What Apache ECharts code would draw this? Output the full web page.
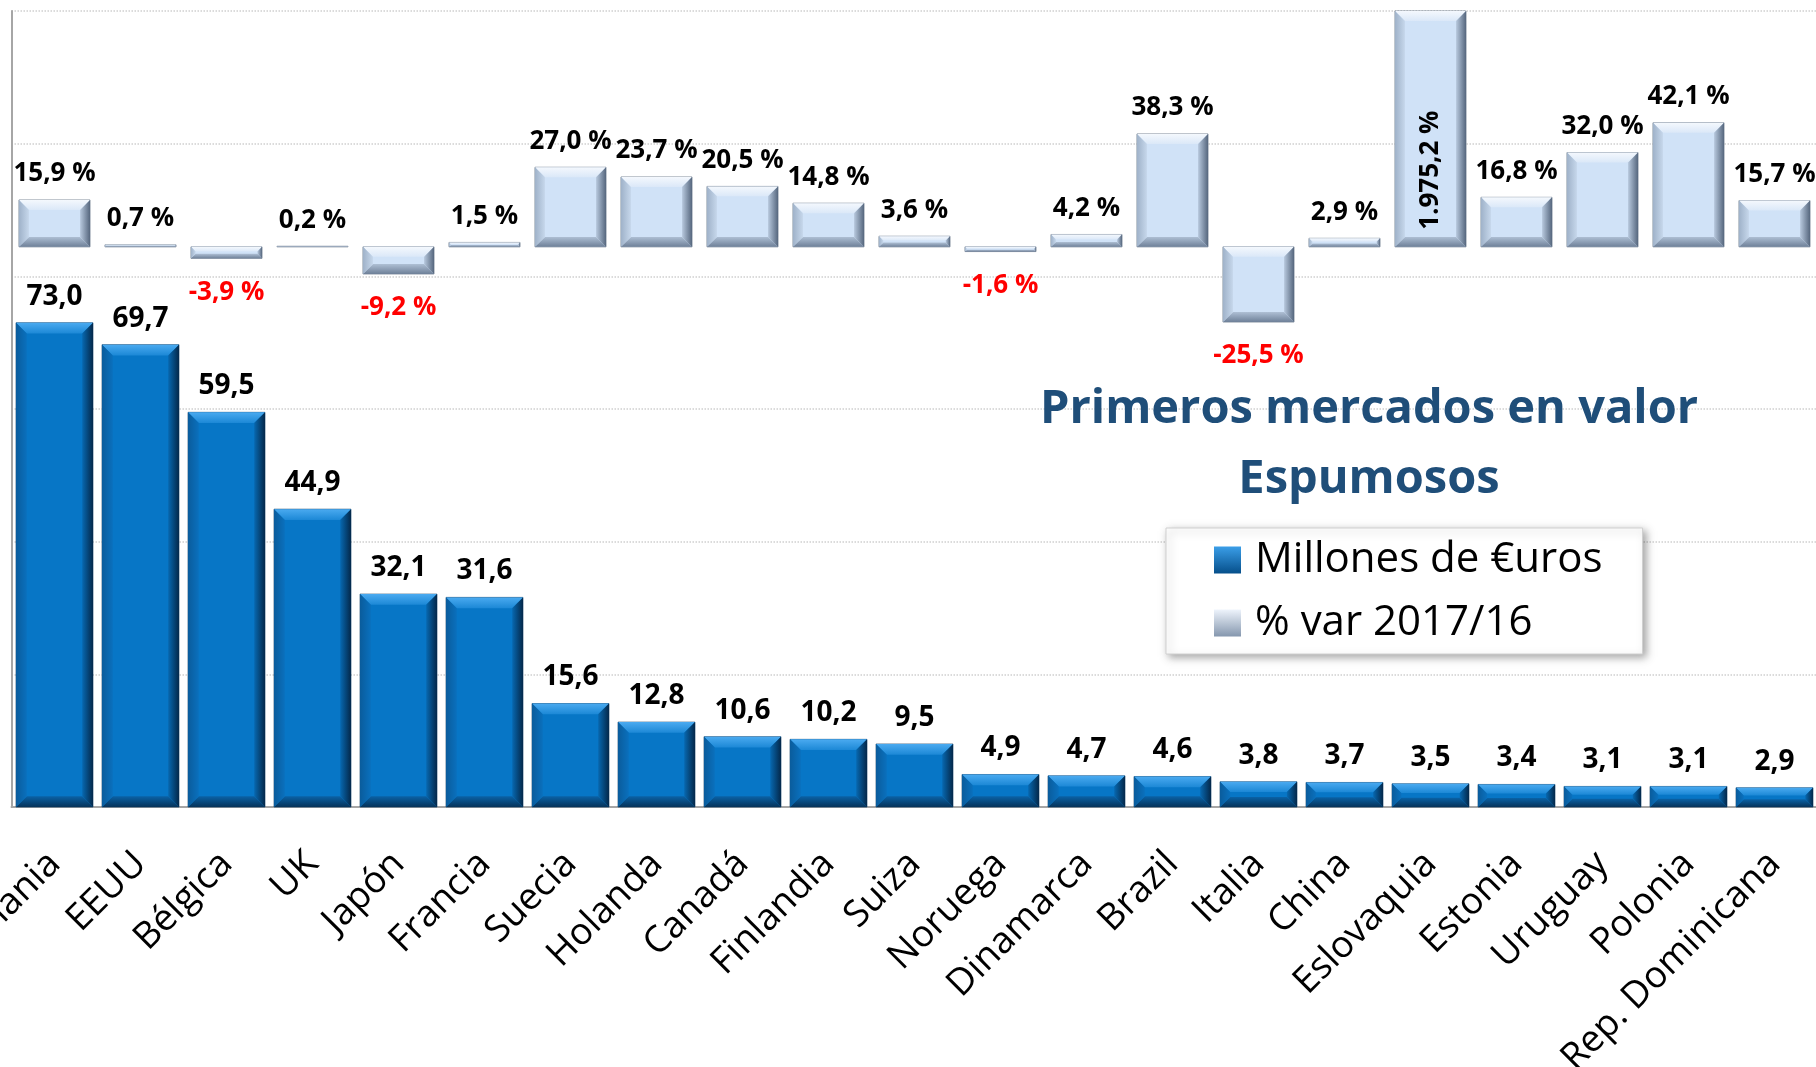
<!DOCTYPE html>
<html>
<head>
<meta charset="utf-8">
<title>Primeros mercados en valor - Espumosos</title>
<script src="https://cdn.jsdelivr.net/npm/echarts@6/dist/echarts.min.js"></script>
<style>
  html, body { margin: 0; padding: 0; background: #fff; }
  #chart { width: 1816px; height: 1067px; }
</style>
</head>
<body>
<div id="chart"></div>
<script>
const categories = ['Alemania', 'EEUU', 'Bélgica', 'UK', 'Japón', 'Francia', 'Suecia', 'Holanda', 'Canadá', 'Finlandia', 'Suiza',
  'Noruega', 'Dinamarca', 'Brazil', 'Italia', 'China', 'Eslovaquia', 'Estonia', 'Uruguay', 'Polonia', 'Rep. Dominicana']
// Millones de €uros
const millones = [73.0, 69.7, 59.5, 44.9, 32.1, 31.6, 15.6, 12.8, 10.6, 10.2, 9.5, 4.9, 4.7, 4.6, 3.8, 3.7, 3.5, 3.4, 3.1, 3.1, 2.9]
// % var 2017/16
const varPct = [15.9, 0.7, -3.9, 0.2, -9.2, 1.5, 27.0, 23.7, 20.5, 14.8, 3.6, -1.6, 4.2, 38.3, -25.5, 2.9, 1975.2, 16.8, 32.0, 42.1, 15.7]

const seriesNames = ['Millones de €uros', '% var 2017/16']
const FONT = '"Open Sans", "DejaVu Sans", sans-serif'

// 1.975,2 style numbers
function fmt(v, suffix) {
  const parts = Math.abs(v).toFixed(1).split('.')
  const int = parts[0].replace(/\B(?=(\d{3})+(?!\d))/g, '.')
  return (v < 0 ? '-' : '') + int + ',' + parts[1] + suffix
}

function lin(x2, y2, c1, c2) {
  return { type: 'linear', x: 0, y: 0, x2: x2, y2: y2, colorStops: [{ offset: 0, color: c1 }, { offset: 1, color: c2 }] }
}

const bluePal = {
  main: '#0776c6',
  top: lin(0, 1, '#4aaaf0', '#1c88d6'),
  bottom: lin(0, 1, '#0a62a6', '#06335a'),
  left: lin(1, 0, '#0a5c9c', '#0a70bd'),
  right: lin(1, 0, '#0768b0', '#04284a'),
  stroke: 'rgba(4,50,90,0.6)',
  fontSize: 28
}
const lightPal = {
  main: '#d0e2f7',
  top: lin(0, 1, '#f4f8fd', '#dbe8f8'),
  bottom: lin(0, 1, '#aebfd4', '#6e8098'),
  left: lin(1, 0, '#9fb2c9', '#c6d7eb'),
  right: lin(1, 0, '#b8c9de', '#56677e'),
  stroke: 'rgba(90,105,125,0.7)',
  fontSize: 26
}

// bar with a bevelled look, drawn from the axis coordinates
function bevelBar(params, api, ratio, pal, label) {
  const i = api.value(0)
  const v = api.value(1)
  const cs = params.coordSys
  const p0 = api.coord([i, 0])
  const p1 = api.coord([i, v])
  const w = api.size([1, 0])[0] * ratio
  const x0 = p0[0] - w / 2
  const x1 = p0[0] + w / 2
  const top = Math.max(Math.min(p0[1], p1[1]), cs.y)
  const bot = Math.min(Math.max(p0[1], p1[1]), cs.y + cs.height)
  const clipped = p1[1] < cs.y
  const h = bot - top
  const b = Math.min(12, h * 0.4, w * 0.14)
  const poly = (pts, fill) => ({ type: 'polygon', shape: { points: pts }, style: { fill: fill } })
  const children = [
    { type: 'rect', shape: { x: x0, y: top, width: w, height: h }, style: { fill: pal.main, stroke: pal.stroke, lineWidth: 1 } },
    poly([[x0, top], [x1, top], [x1 - b, top + b], [x0 + b, top + b]], pal.top),
    poly([[x0, bot], [x1, bot], [x1 - b, bot - b], [x0 + b, bot - b]], pal.bottom),
    poly([[x0, top], [x0 + b, top + b], [x0 + b, bot - b], [x0, bot]], pal.left),
    poly([[x1, top], [x1 - b, top + b], [x1 - b, bot - b], [x1, bot]], pal.right)
  ]
  const text = label(v)
  const style = { text: text, fontFamily: FONT, fontWeight: 'bold', fontSize: pal.fontSize, fill: v < 0 ? '#ff0000' : '#000' }
  if (clipped) {
    children.push({ type: 'text', x: p0[0], y: p0[1] - 17, rotation: Math.PI / 2,
      style: Object.assign(style, { x: 0, y: 0, align: 'left', verticalAlign: 'middle' }) })
  } else if (v < 0) {
    children.push({ type: 'text', style: Object.assign(style, { x: p0[0], y: bot + 34, align: 'center', verticalAlign: 'middle' }) })
  } else {
    children.push({ type: 'text', style: Object.assign(style, { x: p0[0], y: top - 26, align: 'center', verticalAlign: 'middle' }) })
  }
  return { type: 'group', children: children }
}

const chart = echarts.init(document.getElementById('chart'))
chart.setOption({
  backgroundColor: '#fff',
  animation: false,
  title: {
    text: 'Primeros mercados en valor\nEspumosos',
    left: 1369,
    top: 375,
    padding: 0,
    textAlign: 'center',
    textStyle: { fontFamily: FONT, fontSize: 47, fontWeight: 'bold', color: '#1f4e79', lineHeight: 70 }
  },
  legend: {
    orient: 'vertical',
    left: 1166,
    top: 528,
    padding: [11, 40, 10, 48],
    itemWidth: 27,
    itemHeight: 27,
    itemGap: 21,
    backgroundColor: '#fff',
    borderColor: '#d0d0d0',
    borderWidth: 1,
    shadowColor: 'rgba(0,0,0,0.35)',
    shadowBlur: 8,
    shadowOffsetX: 3,
    shadowOffsetY: 3,
    textStyle: { fontFamily: FONT, fontSize: 42, lineHeight: 42, color: '#000', padding: [0, 0, 0, 9] },
    data: [
      { name: seriesNames[0], icon: 'rect', itemStyle: { color: lin(0, 1, '#3a9ee8', '#064f8a') } },
      { name: seriesNames[1], icon: 'rect', itemStyle: { color: lin(0, 1, '#eef4fc', '#8597ae') } }
    ]
  },
  grid: {
    left: 11.5,
    top: 11,
    width: 1806,
    height: 796,
    containLabel: false,
    outerBoundsMode: 'none'
  },
  xAxis: {
    type: 'category',
    data: categories,
    axisLine: { lineStyle: { color: '#a6a6a6', width: 2 } },
    axisTick: { show: false },
    axisLabel: {
      interval: 0,
      rotate: 45,
      margin: 51,
      padding: [48, 0, 0, 0],
      fontFamily: FONT,
      fontSize: 37,
      color: '#000'
    }
  },
  yAxis: [
    {
      type: 'value',
      min: 0,
      max: 120,
      interval: 20,
      axisLine: { show: true, lineStyle: { color: '#a6a6a6', width: 2 } },
      axisTick: { show: false },
      axisLabel: { show: false },
      splitLine: { lineStyle: { color: '#cfcfcf', type: 'dotted', width: 1.5 } }
    },
    {
      type: 'value',
      min: -190,
      max: 80,
      show: false,
      splitLine: { show: false }
    }
  ],
  series: [
    {
      name: seriesNames[0],
      type: 'custom',
      xAxisIndex: 0,
      yAxisIndex: 0,
      itemStyle: { color: '#0776c6' },
      data: millones.map((v, i) => [i, v]),
      renderItem: (params, api) => bevelBar(params, api, 0.895, bluePal, v => fmt(v, ''))
    },
    {
      name: seriesNames[1],
      type: 'custom',
      xAxisIndex: 0,
      yAxisIndex: 1,
      itemStyle: { color: '#d0e2f7' },
      data: varPct.map((v, i) => [i, v]),
      renderItem: (params, api) => bevelBar(params, api, 0.826, lightPal, v => fmt(v, ' %'))
    }
  ]
})
</script>
</body>
</html>
